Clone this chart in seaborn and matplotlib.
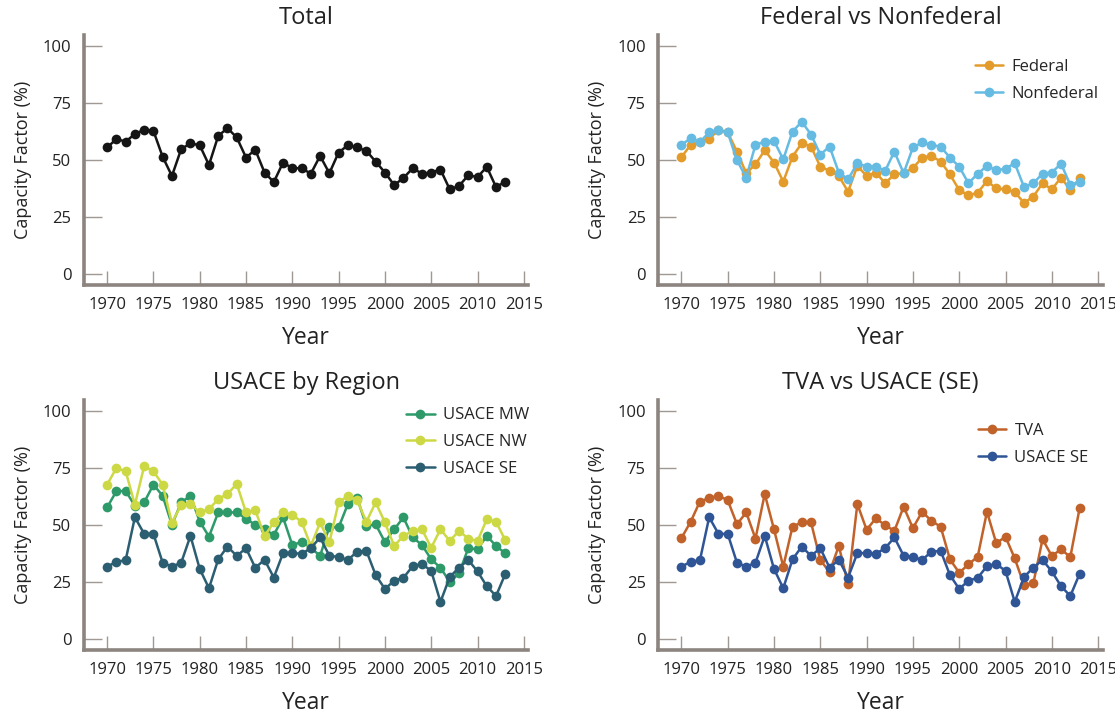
import numpy as np
import seaborn as sns
import matplotlib.pyplot as plt

years = np.arange(1970, 2014)

total = [55.6, 59.3, 58.2, 61.5, 63.4, 62.9, 51.5, 43.1, 54.9, 57.4, 56.6,
         47.9, 60.7, 64.1, 60.0, 51.2, 54.6, 44.6, 40.4, 49.0, 46.5,
         46.5, 44.1, 51.9, 44.3, 53.4, 56.6, 55.6, 54.1, 49.4, 44.6,
         39.1, 42.2, 46.5, 44.1, 44.6, 45.9, 37.2, 38.7, 43.4, 42.6,
         47.1, 38.2, 40.6]

federal = [51.3, 56.8, 58.2, 59.3, 63.4, 62.2, 53.8, 44.3, 48.2, 54.4, 49.0,
           40.6, 51.6, 57.5, 56.0, 47.2, 45.4, 43.1, 36.2, 47.5, 43.1,
           44.6, 39.9, 43.8, 44.3, 46.5, 51.2, 51.9, 49.4, 43.8, 36.9,
           34.6, 35.7, 40.9, 37.6, 37.2, 36.0, 31.3, 34.0, 39.9, 37.2,
           42.4, 36.9, 42.1]

nonfederal = [56.8, 59.6, 58.1, 62.2, 63.4, 62.2, 50.0, 42.4, 56.8, 58.1, 58.5,
              50.4, 62.6, 66.9, 61.3, 52.5, 56.0, 44.6, 41.6, 48.7, 47.2,
              47.2, 45.3, 53.8, 44.3, 55.6, 57.8, 56.8, 55.9, 51.2, 47.2,
              39.9, 44.1, 47.5, 45.6, 46.3, 48.7, 38.2, 39.9, 44.1, 44.6,
              48.5, 39.1, 40.6]

usace_mw = [57.8, 64.9, 65.1, 58.5, 60.0, 67.8, 62.9, 50.1, 60.0, 62.9, 51.6,
            45.0, 55.6, 55.6, 55.6, 52.9, 50.1, 48.2, 45.7, 53.4, 41.3,
            42.6, 40.1, 36.5, 49.3, 49.0, 59.3, 61.9, 49.7, 50.4, 42.6,
            48.2, 53.4, 44.6, 41.3, 35.0, 31.3, 25.1, 28.8, 39.9, 39.4,
            45.3, 40.9, 37.6]

usace_nw = [67.8, 75.1, 73.7, 59.0, 75.9, 73.7, 67.8, 51.0, 59.0, 59.3, 55.6,
            57.0, 61.5, 63.7, 68.1, 55.6, 56.6, 45.3, 51.2, 55.6, 54.6,
            51.5, 40.9, 51.2, 42.4, 60.0, 62.9, 61.0, 51.5, 60.0, 51.2,
            40.9, 45.3, 47.5, 48.2, 40.1, 48.2, 43.1, 47.5, 44.1, 43.0,
            52.6, 51.5, 43.4]

usace_se = [31.8, 33.9, 34.6, 53.5, 46.2, 46.2, 33.5, 31.8, 33.5, 45.3, 30.8,
            22.3, 35.0, 40.6, 36.5, 39.9, 31.3, 34.8, 27.0, 37.7, 37.8,
            37.4, 39.9, 44.6, 36.6, 36.0, 34.7, 38.4, 38.7, 28.1, 22.0,
            25.6, 26.9, 32.0, 33.0, 29.9, 16.3, 27.2, 31.4, 34.7, 29.7,
            23.2, 18.9, 28.6]

tva = [44.3, 51.5, 60.4, 61.9, 62.9, 61.0, 50.4, 55.6, 44.1, 63.7, 48.2,
       31.8, 49.4, 51.2, 51.2, 34.7, 29.4, 40.9, 24.0, 59.3, 48.0,
       53.0, 50.0, 47.5, 58.1, 48.7, 55.9, 51.9, 49.3, 35.0, 29.1,
       32.8, 36.2, 55.9, 42.1, 44.9, 35.4, 23.7, 24.4, 43.8, 36.5,
       39.4, 36.0, 57.4]

panels = [
    ('Total', [('Total', total, '#151515')], None),
    ('Federal vs Nonfederal', [('Federal', federal, '#E39C2C'),
                               ('Nonfederal', nonfederal, '#66BBE3')], (0.712, 0.905)),
    ('USACE by Region', [('USACE MW', usace_mw, '#2E9A6A'),
                         ('USACE NW', usace_nw, '#CDD944'),
                         ('USACE SE', usace_se, '#2C5E72')], (0.725, 0.97)),
    ('TVA vs USACE (SE)', [('TVA', tva, '#C1622A'),
                           ('USACE SE', usace_se, '#2F5596')], (0.719, 0.908)),
]

sns.set_theme(style='ticks')
plt.rcParams['font.family'] = ['Open Sans', 'DejaVu Sans']

spine_col = '#8C847F'
fig, axes = plt.subplots(2, 2, figsize=(11.15, 7.15), dpi=100)
fig.subplots_adjust(left=0.0753, right=0.989, bottom=0.091, top=0.951,
                    wspace=0.292, hspace=0.46)

for ax, (title, series, leg_pos) in zip(axes.flat, panels):
    for name, vals, col in series:
        sns.lineplot(x=years, y=vals, ax=ax, color=col, marker='o',
                     markersize=7, markeredgewidth=0, linewidth=1.8,
                     label=name, legend=False)
    ax.set_xlim(1967.5, 2015.5)
    ax.set_ylim(-4.8, 105)
    ax.set_xticks(range(1970, 2016, 5))
    ax.set_yticks([0, 25, 50, 75, 100])
    ax.tick_params(direction='in', length=10, width=1, color='#A09893',
                   labelsize=12, pad=9, colors='#222222')
    ax.tick_params(axis='y', length=13)
    for s in ['top', 'right']:
        ax.spines[s].set_visible(False)
    for s in ['left', 'bottom']:
        ax.spines[s].set_color(spine_col)
        ax.spines[s].set_linewidth(2.6)
    ax.set_title(title, fontsize=17, pad=8, color='#222222')
    ax.set_xlabel('Year', fontsize=16.5, labelpad=9, color='#222222')
    ax.set_ylabel('Capacity Factor (%)', fontsize=13, labelpad=8, color='#222222')
    if leg_pos is not None:
        ax.legend(loc='upper left', bbox_to_anchor=leg_pos, frameon=False,
                  fontsize=12, handlelength=1.7, handletextpad=0.5,
                  labelspacing=0.65, borderpad=0, borderaxespad=0)

fig.savefig('out.png', dpi=100)
